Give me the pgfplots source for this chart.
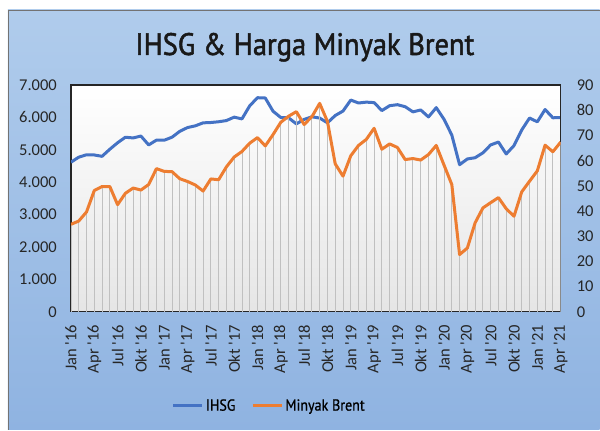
\documentclass[border=0pt]{standalone}
\usepackage{fontspec}
\setmainfont{Carlito}
\newfontfamily\titlefont[FakeStretch=0.92,FakeBold=1.6]{PT Sans}
\newfontfamily\legfont[FakeStretch=0.88,FakeBold=0.8]{PT Sans}
\usepackage{pgfplots}
\pgfplotsset{compat=1.18}
\usepackage{pgfplotstable}
\definecolor{ihsgblue}{HTML}{4472C4}
\definecolor{brentorange}{HTML}{ED7D31}
\definecolor{bgtop}{RGB}{176,204,236}
\definecolor{bgbot}{RGB}{143,179,225}
\definecolor{dropgray}{RGB}{192,192,192}

\pgfplotstableread{
idx ihsg brent
0 4615 34.7
1 4771 36.0
2 4845 39.6
3 4839 48.1
4 4797 49.7
5 5016 49.7
6 5216 42.5
7 5386 47.0
8 5365 49.1
9 5423 48.3
10 5149 50.5
11 5297 56.8
12 5294 55.7
13 5387 55.6
14 5568 52.8
15 5685 51.7
16 5738 50.3
17 5830 47.9
18 5841 52.7
19 5864 52.4
20 5901 57.5
21 6006 61.4
22 5952 63.6
23 6356 66.9
24 6606 69.1
25 6597 65.8
26 6189 70.3
27 5995 75.2
28 5984 77.6
29 5799 79.4
30 5936 74.3
31 6018 77.4
32 5977 82.7
33 5832 75.5
34 6056 58.7
35 6194 53.8
36 6533 61.9
37 6443 66.0
38 6469 68.4
39 6455 72.8
40 6209 64.5
41 6359 66.6
42 6391 65.2
43 6328 60.4
44 6169 60.8
45 6228 60.2
46 6012 62.4
47 6300 66.0
48 5940 58.2
49 5453 50.5
50 4539 22.7
51 4716 25.3
52 4754 35.3
53 4905 41.2
54 5149 43.3
55 5238 45.3
56 4870 40.9
57 5128 37.9
58 5612 47.6
59 5979 51.8
60 5862 55.9
61 6242 66.1
62 5986 63.5
63 5996 67.3
}\datatable

\begin{document}
\begin{tikzpicture}[x=1pt,y=1pt]
\fill[white] (0,0) rectangle (600,430);
\shade[top color=bgtop,bottom color=bgbot] (8,0) rectangle (600,420);
\draw[black!55, line width=0.8pt] (8.4,0) -- (8.4,419.6) -- (600,419.6);
\node[anchor=base, font=\titlefont\fontsize{31}{36}\selectfont, text=black!90, inner sep=0pt] at (305,375) {IHSG \& Harga Minyak Brent};

\begin{axis}[at={(71pt,118pt)}, anchor=south west, scale only axis,
  width=490pt, height=227pt,
  xmin=0, xmax=63, ymin=0, ymax=7000,
  axis background/.style={shade, top color=white, bottom color=black!10},
  axis line style={black!85, line width=1.2pt},
  xtick={0,3,...,63},
  xticklabels={Jan \textquotesingle16,Apr \textquotesingle16,Jul \textquotesingle16,Okt \textquotesingle16,Jan \textquotesingle17,Apr \textquotesingle17,Jul \textquotesingle17,Okt \textquotesingle17,Jan \textquotesingle18,Apr \textquotesingle18,Jul \textquotesingle18,Okt \textquotesingle18,Jan \textquotesingle19,Apr \textquotesingle19,Jul \textquotesingle19,Okt \textquotesingle19,Jan \textquotesingle20,Apr \textquotesingle20,Jul \textquotesingle20,Okt \textquotesingle20,Jan \textquotesingle21,Apr \textquotesingle21},
  ytick={0,1000,...,7000},
  major tick length=0pt,
  scaled y ticks=false,
  tick label style={font=\fontsize{16.5}{18}\selectfont, text=black!85},
  /pgf/number format/assume math mode=true,
  /pgf/number format/1000 sep={.},
  xticklabel style={rotate=90, anchor=east, inner sep=0pt},
  xticklabel shift=13pt,
  yticklabel style={anchor=east, inner sep=0pt},
  yticklabel shift=14pt,
]
\addplot[ihsgblue, line width=3pt, line join=round] table[x=idx,y=ihsg]{\datatable};
\end{axis}

\begin{axis}[at={(71pt,118pt)}, anchor=south west, scale only axis,
  width=490pt, height=227pt,
  xmin=0, xmax=63, ymin=0, ymax=90,
  axis x line=none, axis y line*=right,
  axis line style={black!85, line width=1.2pt},
  ytick={0,10,...,90},
  major tick length=0pt,
  tick label style={font=\fontsize{16.5}{18}\selectfont, text=black!85},
  /pgf/number format/assume math mode=true,
  yticklabel style={anchor=west, inner sep=0pt},
  yticklabel shift=16pt,
  legend style={at={(0.405,-0.414)}, anchor=center, draw=none, fill=none,
    font=\legfont\fontsize{16}{18}\selectfont,
    /tikz/every even column/.append style={column sep=14pt}},
  legend columns=2,
  legend cell align=left,
  legend image code/.code={\draw[#1, line width=3pt] (0pt,0pt) -- (29pt,0pt);},
]
\addlegendimage{ihsgblue}
\addlegendentry{IHSG}
\addplot[ycomb, dropgray, line width=0.9pt, forget plot] table[x=idx,y=brent]{\datatable};
\addplot[brentorange, line width=3pt, line join=round] table[x=idx,y=brent]{\datatable};
\addlegendentry{Minyak Brent}
\end{axis}
\end{tikzpicture}
\end{document}
